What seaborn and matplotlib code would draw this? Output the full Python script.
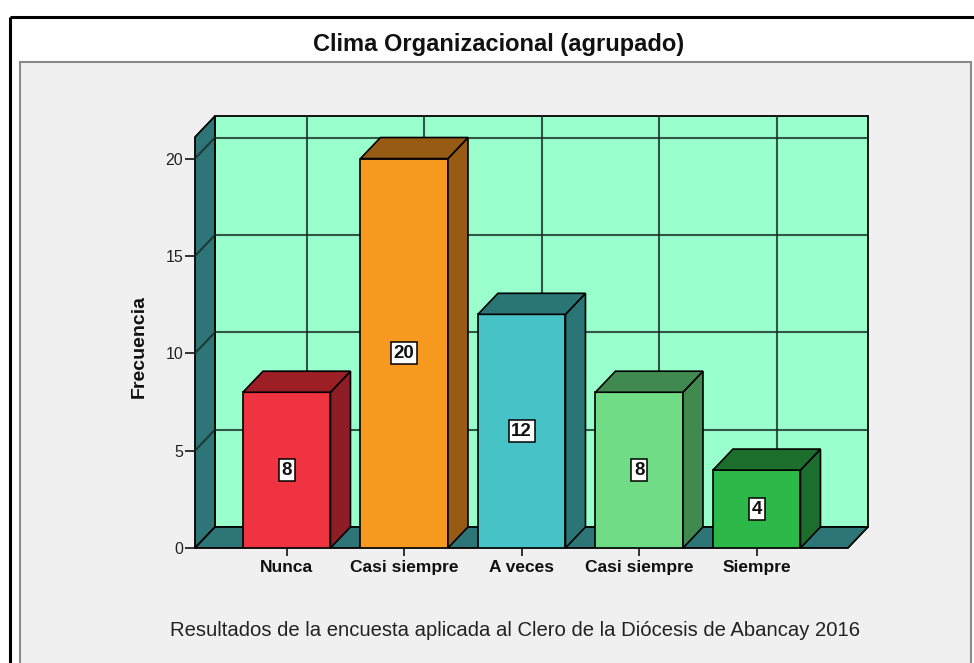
import numpy as np
import pandas as pd
import matplotlib
matplotlib.use('Agg')
import matplotlib.pyplot as plt
import seaborn as sns
from matplotlib.patches import Polygon, Rectangle

# ---------------- data ----------------
categorias = ['Nunca', 'Casi siempre', 'A veces', 'Casi siempre', 'Siempre']
orden = ['1', '2', '3', '4', '5']
frecuencias = [8, 20, 12, 8, 4]
colores_frente = ['#ef3340', '#f7991f', '#47c3c8', '#70dc85', '#2db84a']
colores_lado = ['#8e1e26', '#975b14', '#2a7677', '#418a4f', '#1c6e2c']
colores_tapa = ['#9b1f24', '#975b14', '#2a7677', '#418a4f', '#1c6e2c']
yticks = [0, 5, 10, 15, 20]

titulo = 'Clima Organizacional (agrupado)'
etiqueta_y = 'Frecuencia'
pie = 'Resultados de la encuesta aplicada al Clero de la Diócesis de Abancay 2016'

# ---------------- style ----------------
sns.set_theme(style='white')
plt.rcParams['font.family'] = ['Liberation Sans', 'DejaVu Sans']

W, H = 974, 663
fig = plt.figure(figsize=(W / 100, H / 100), dpi=100)
fig.patch.set_facecolor('white')

# background (pixel coordinates)
bg = fig.add_axes([0, 0, 1, 1], zorder=-5)
bg.set_xlim(0, W)
bg.set_ylim(H, 0)
bg.axis('off')
bg.add_patch(Rectangle((20, 62), 951, 640, facecolor='#f0f0f0',
                       edgecolor='#8a8a8a', lw=1.5))
bg.plot([10, 10], [17, H + 5], color='black', lw=2.2, solid_capstyle='butt')
bg.plot([10, W + 5], [17, 17], color='black', lw=2.2, solid_capstyle='butt')
bg.text(499, 45, titulo, ha='center', va='center', fontsize=17,
        fontweight='bold', color='#111111')
bg.text(515, 631, pie, ha='center', va='center', fontsize=14.6,
        family=['Liberation Sans Narrow', 'Liberation Sans', 'DejaVu Sans'],
        color='#222222')
bg.text(139, 346, etiqueta_y, ha='center', va='center', rotation=90,
        fontsize=14, fontweight='bold', color='#111111')

# ---------------- main axes ----------------
px_left, px_right, px_bottom, px_top = 195, 868, 548, 116
ax = fig.add_axes([px_left / W, (H - px_bottom) / H,
                   (px_right - px_left) / W, (px_bottom - px_top) / H])
ax.patch.set_alpha(0)

df = pd.DataFrame({'orden': orden, 'frecuencia': frecuencias})
sns.barplot(data=df, x='orden', y='frecuencia', hue='orden',
            palette=colores_frente, legend=False, width=0.745,
            edgecolor='black', linewidth=1.2, errorbar=None,
            saturation=1, ax=ax)
barras = list(ax.patches)

# 3D geometry (data units)
cat_px = 117.5
unit_px = 19.44
x0 = -(286.7 - 195) / cat_px
dx = 20 / cat_px
x1 = 4 + (848 - 756.7) / cat_px
dy = 21 / unit_px
ytop = (548 - 137.7) / unit_px

ax.set_xlim(x0, x1 + dx)
ax.set_ylim(0, ytop + dy)

teal = '#2e7577'
# back wall
ax.add_patch(Rectangle((x0 + dx, dy), (x1 - x0), ytop, facecolor='#99ffcc',
                       edgecolor='black', lw=1.3, zorder=0.5, clip_on=False))
# left wall
ax.add_patch(Polygon([(x0, 0), (x0 + dx, dy), (x0 + dx, ytop + dy), (x0, ytop)],
                     closed=True, facecolor=teal, edgecolor='black', lw=1.3,
                     zorder=0.8, clip_on=False))
# floor
ax.add_patch(Polygon([(x0, 0), (x1, 0), (x1 + dx, dy), (x0 + dx, dy)],
                     closed=True, facecolor=teal, edgecolor='black', lw=1.3,
                     zorder=0.8, clip_on=False))
grid_kw = dict(color='#1a2a24', lw=1.5, alpha=0.8, clip_on=False)
for v in yticks[1:]:
    ax.plot([x0 + dx, x1 + dx], [v + dy, v + dy], zorder=0.6, **grid_kw)
    ax.plot([x0, x0 + dx], [v, v + dy], zorder=0.9, **grid_kw)
for i in range(len(categorias)):
    ax.plot([i + dx, i + dx], [dy, ytop + dy], zorder=0.6, **grid_kw)

# bars with sides and tops
for b, v, cl, ct in zip(barras, frecuencias, colores_lado, colores_tapa):
    b.set_zorder(3)
    x = b.get_x()
    w = b.get_width()
    h = b.get_height()
    ax.add_patch(Polygon([(x + w, 0), (x + w + dx, dy), (x + w + dx, h + dy), (x + w, h)],
                         closed=True, facecolor=cl, edgecolor='black', lw=1.2,
                         zorder=3, clip_on=False))
    ax.add_patch(Polygon([(x, h), (x + w, h), (x + w + dx, h + dy), (x + dx, h + dy)],
                         closed=True, facecolor=ct, edgecolor='black', lw=1.2,
                         zorder=3, clip_on=False))
    ax.text(x + w / 2, h / 2, str(v), ha='center', va='center', fontsize=13.5,
            fontweight='bold', color='#111111', zorder=5,
            bbox=dict(boxstyle='square,pad=0.14', facecolor='white',
                      edgecolor='black', lw=1.1))

for s in ax.spines.values():
    s.set_visible(False)
ax.set_xlabel('')
ax.set_ylabel('')
ax.set_yticks(yticks)
ax.set_yticklabels([str(t) for t in yticks])
ax.set_xticks(range(len(categorias)))
ax.set_xticklabels(categorias, fontweight='bold', fontsize=12.5, color='#111111')
ax.tick_params(axis='y', left=True, length=7, width=1.3, pad=1.5,
               labelsize=11.5, labelcolor='#222222', color='#222222')
ax.tick_params(axis='x', bottom=True, length=6, width=1.3, pad=2.5,
               color='#222222')

fig.savefig('out.png', dpi=100)
